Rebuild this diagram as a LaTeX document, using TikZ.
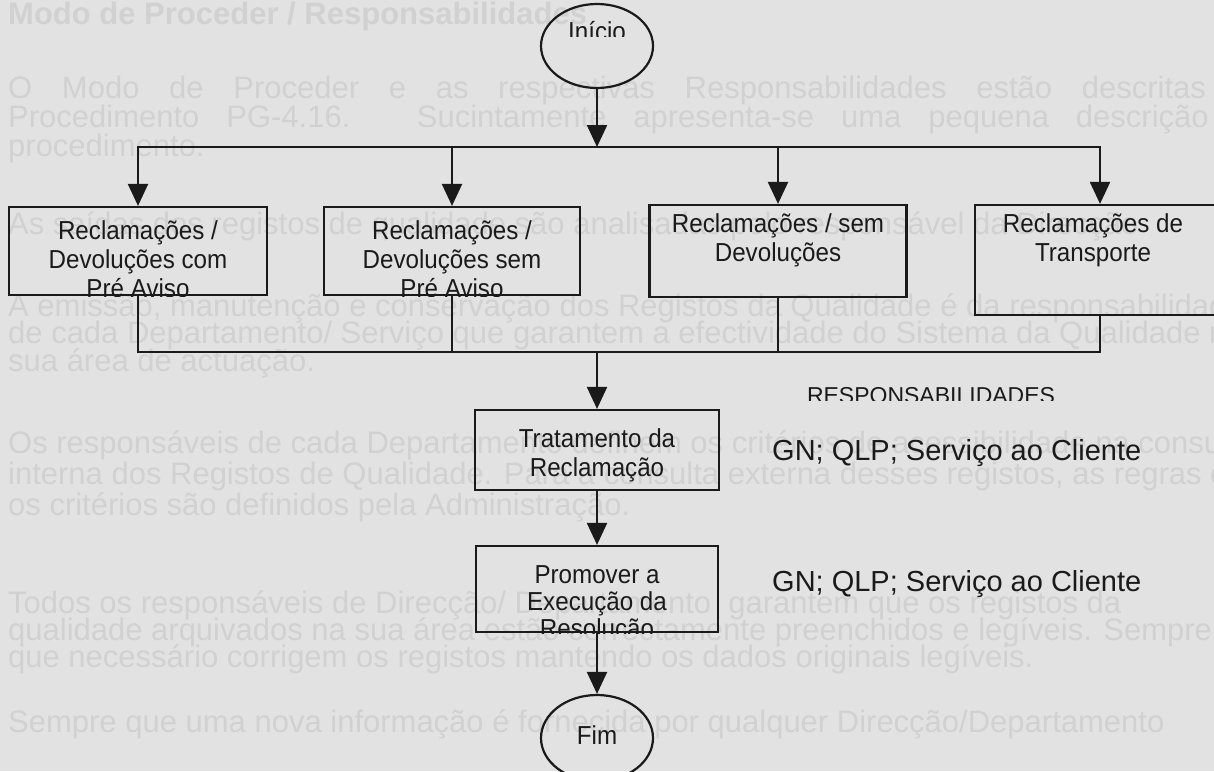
\documentclass[tikz,border=0pt]{standalone}
\usepackage{fontspec}
\setmainfont{Liberation Sans}
% slightly narrowed face for the flow labels
\newfontfamily\flowfont[FakeStretch=0.93]{Liberation Sans}
\usetikzlibrary{shapes.geometric,arrows.meta}
\definecolor{paper}{HTML}{E2E2E2}
\definecolor{ghostc}{HTML}{D1D1D1}
\definecolor{inkc}{HTML}{1A1A1A}
% fixed height for the first line of every label block
\newcommand{\lnstrut}{\rule{0pt}{24pt}}
\begin{document}
\begin{tikzpicture}[x=1pt,y=-1pt,
  >={Triangle[length=22pt,width=20pt]},
  ink/.style={draw=inkc, line width=2.2pt},
  stepbox/.style={ink, rectangle, inner sep=0pt},
  term/.style={ink, ellipse, inner sep=0pt},
  lbl/.style={text=inkc, font=\flowfont\fontsize{26}{29}\selectfont, align=center, inner sep=0pt, anchor=north},
  resp/.style={text=inkc, font=\fontsize{29}{33}\selectfont, inner sep=0pt, anchor=base west},
  hdr/.style={text=inkc, font=\fontsize{23}{27}\selectfont, inner sep=0pt, anchor=base},
  ghost/.style={text=ghostc, font=\fontsize{31}{34}\selectfont, inner sep=0pt, anchor=base west},
  link/.style={ink, line cap=rect},
  arr/.style={ink, ->},
]
\fill[paper] (0,0) rectangle (1214,771);
\useasboundingbox (0,0) rectangle (1214,771);

% text of the page underneath
\node[ghost, font=\bfseries\fontsize{31}{34}\selectfont] (g0) at (8,24) {Modo de Proceder / Responsabilidades};
\node[ghost] (g1) at (8,98) {\makebox[1262pt][s]{O Modo de Proceder e as respectivas Responsabilidades estão descritas no}};
\node[ghost] (g2) at (8,127) {\makebox[1262pt][s]{Procedimento PG-4.16. Sucintamente apresenta-se uma pequena descrição do}};
\node[ghost] (g3) at (8,156) {procedimento.};
\node[ghost] (g4) at (8,234) {As saídas dos registos de qualidade são analisadas pelo responsável da Direcção};
\node[ghost] (g5) at (8,316) {A emissão, manutenção e conservação dos Registos da Qualidade é da responsabilidade};
\node[ghost] (g6) at (8,343) {de cada Departamento/ Serviço que garantem a efectividade do Sistema da Qualidade na};
\node[ghost] (g7) at (8,371) {sua área de actuação.};
\node[ghost] (g8) at (8,453) {Os responsáveis de cada Departamento definem os critérios de acessibilidade na consulta};
\node[ghost] (g9) at (8,484) {interna dos Registos de Qualidade. Para a consulta externa desses registos, as regras e};
\node[ghost] (g10) at (8,515) {os critérios são definidos pela Administração.};
\node[ghost] (g11) at (8,613) {Todos os responsáveis de Direcção/ Departamento \ garantem que os registos da};
\node[ghost] (g12) at (8,640) {qualidade arquivados na sua área estão correctamente preenchidos e legíveis. Sempre};
\node[ghost] (g13) at (8,667) {que necessário corrigem os registos mantendo os dados originais legíveis.};
\node[ghost] (g14) at (8,732) {Sempre que uma nova informação é fornecida por qualquer Direcção/Departamento};

% shapes of the flow
\node[term, minimum width=112pt, minimum height=84pt] (ini) at (597,46) {};
\node[stepbox, minimum width=258pt, minimum height=88pt] (b1) at (138,251) {};
\node[stepbox, minimum width=256pt, minimum height=88pt] (b2) at (452,251) {};
\node[stepbox, minimum width=257pt, minimum height=92pt] (b3) at (778,251) {};
\node[stepbox, minimum width=250pt, minimum height=110pt] (b4) at (1100,260) {};
\node[stepbox, minimum width=244pt, minimum height=80pt] (trat) at (597,450) {};
\node[stepbox, minimum width=242pt, minimum height=86pt] (prom) at (597,589) {};
\node[term, minimum width=112pt, minimum height=86pt] (fim) at (597,738) {};

% labels
\begin{scope}
  \clip (530,0) rectangle (665,36);
  \node[lbl] (tini) at (597,16) {\lnstrut Início};
\end{scope}
\begin{scope}
  \clip (b1.south west) rectangle (b1.north east);
  \node[lbl] (t1) at (138,215) {\lnstrut Reclamações /\\Devoluções com\\Pré Aviso};
\end{scope}
\begin{scope}
  \clip (b2.south west) rectangle (b2.north east);
  \node[lbl] (t2) at (452,215) {\lnstrut Reclamações /\\Devoluções sem\\Pré Aviso};
\end{scope}
\node[lbl] (t3) at (778,208) {\lnstrut Reclamações / sem\\Devoluções};
\node[lbl] (t4) at (1093,208) {\lnstrut Reclamações de\\Transporte};
\node[lbl] (t5) at (597,423) {\lnstrut Tratamento da\\Reclamação};
\begin{scope}
  \clip (prom.south west) rectangle (prom.north east);
  \node[lbl, font=\flowfont\fontsize{26}{27}\selectfont] (t6) at (597,559) {\lnstrut Promover a\\Execução da\\Resolução};
\end{scope}
\node[lbl] (tfim) at (597,720) {\lnstrut Fim};

\begin{scope}
  \clip (780,370) rectangle (1090,400);
  \node[hdr] (hd) at (931,403) {RESPONSABILIDADES};
\end{scope}
\node[resp] (r1) at (772,460) {GN; QLP; Serviço ao Cliente};
\node[resp] (r2) at (772,591) {GN; QLP; Serviço ao Cliente};

% connectors
\coordinate (busA) at (597,147);
\coordinate (busB) at (597,352);
\draw[arr] (ini.south) -- (busA);
\draw[ink, <->] (b1.north) -- (b1.north |- busA) -- (b4.north |- busA) -- (b4.north);
\draw[arr] (b2.north |- busA) -- (b2.north);
\draw[arr] (b3.north |- busA) -- (b3.north);
\draw[link] (b1.south) -- (b1.south |- busB) -- (b4.south |- busB) -- (b4.south);
\draw[link] (b2.south) -- (b2.south |- busB);
\draw[link] (b3.south) -- (b3.south |- busB);
\draw[arr] (busB) -- (trat.north);
\draw[arr] (trat.south) -- (prom.north);
\draw[arr] (prom.south) -- (fim.north);
\end{tikzpicture}
\end{document}
